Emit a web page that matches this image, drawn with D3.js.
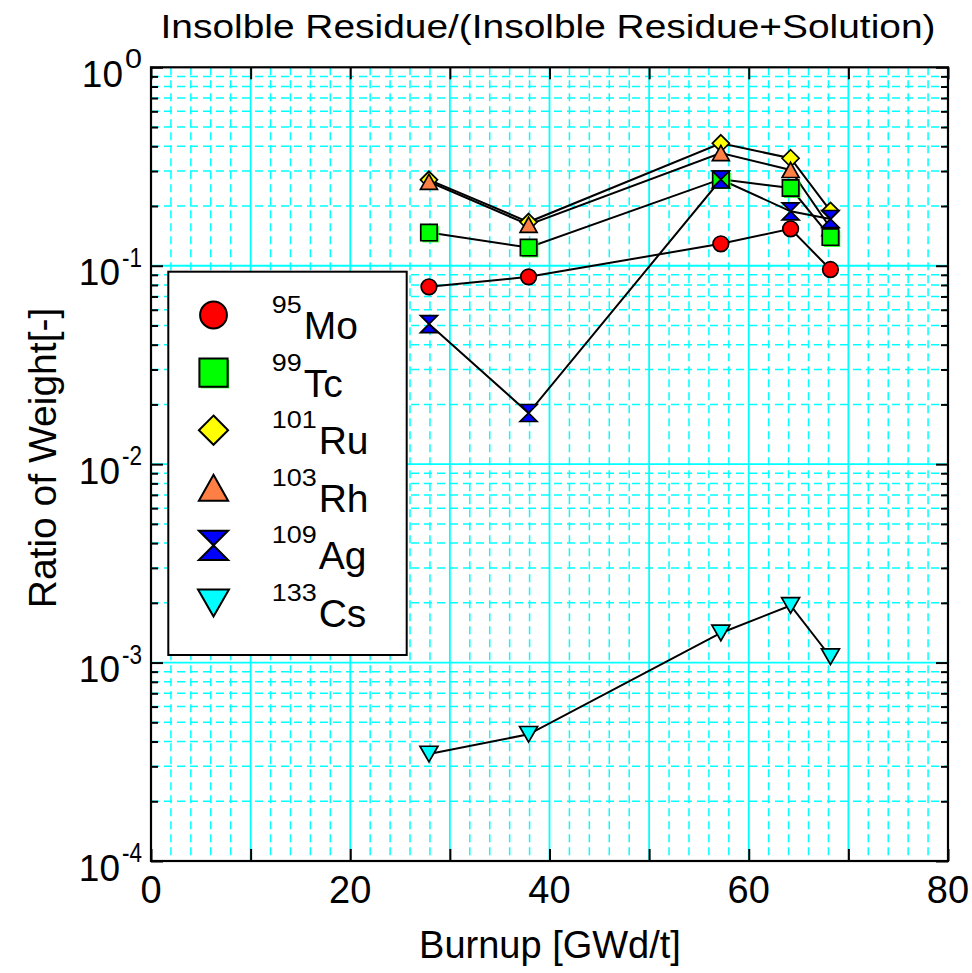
<!DOCTYPE html>
<html>
<head>
<meta charset="utf-8">
<script src="https://cdn.jsdelivr.net/npm/d3@7"></script>
<style>
  html, body { margin: 0; padding: 0; background: #fff; }
  svg { display: block; font-family: "Liberation Sans", Arial, Helvetica, sans-serif; }
</style>
</head>
<body>
<svg id="chart" width="972" height="973"></svg>
<script>
// Burnup of each sample [GWd/t]
const burnup = [27.9, 37.9, 57.2, 64.2, 68.2];

// Insoluble residue / (insoluble residue + solution), by nuclide
const mo95  = [0.0783, 0.0879, 0.129, 0.1535, 0.0957];
const tc99  = [0.147, 0.1235, 0.273, 0.2464, 0.1395];
const ru101 = [0.271, 0.166, 0.414, 0.348, 0.189];
const rh103 = [0.265, 0.161, 0.370, 0.304, 0.155];
const ag109 = [0.0508, 0.0181, 0.272, 0.188, 0.172];
const cs133 = [3.46e-4, 4.35e-4, 1.41e-3, 1.94e-3, 1.07e-3];

const xTicks = [0, 20, 40, 60, 80];
const yDecades = [1e-4, 1e-3, 1e-2, 1e-1, 1];

const titleText = "Insolble Residue/(Insolble Residue+Solution)";
const xLabel = "Burnup [GWd/t]";
const yLabel = "Ratio of Weight[-]";

// legend order
const series = [
  { mass: "95",  name: "Mo", values: mo95,  color: "#ff0000", shape: "circle" },
  { mass: "99",  name: "Tc", values: tc99,  color: "#00ff00", shape: "square" },
  { mass: "101", name: "Ru", values: ru101, color: "#ffff00", shape: "diamond" },
  { mass: "103", name: "Rh", values: rh103, color: "#ff7f45", shape: "triangle" },
  { mass: "109", name: "Ag", values: ag109, color: "#0000ff", shape: "bowtie" },
  { mass: "133", name: "Cs", values: cs133, color: "#00ffff", shape: "triangleDown" }
];
// stacking order of the marks in the plot
const drawOrder = ["Mo", "Ru", "Rh", "Tc", "Ag", "Cs"];

const svg = d3.select("#chart");
const L = 151, R = 948, T = 67.3, B = 861;
const x = d3.scaleLinear().domain([0, 80]).range([L, R]);
const y = d3.scaleLog().domain([1e-4, 1]).range([B, T]);

const grid = "#00ffff";
const dash = "8,5";

// ---- grid ----
const gGrid = svg.append("g");
// minor vertical (every 2)
d3.range(2, 80, 2).filter(v => v % 10 !== 0).forEach(v => {
  gGrid.append("line").attr("x1", x(v)).attr("x2", x(v)).attr("y1", T).attr("y2", B)
    .attr("stroke", grid).attr("stroke-width", 1.5).attr("stroke-dasharray", dash);
});
// minor horizontal (2..9 x decade)
y.ticks().filter(v => Math.abs(Math.log10(v) - Math.round(Math.log10(v))) > 1e-6).forEach(v => {
  gGrid.append("line").attr("x1", L).attr("x2", R).attr("y1", y(v)).attr("y2", y(v))
    .attr("stroke", grid).attr("stroke-width", 1.5).attr("stroke-dasharray", dash);
});
// major vertical
d3.range(10, 80, 10).forEach(v => {
  gGrid.append("line").attr("x1", x(v)).attr("x2", x(v)).attr("y1", T).attr("y2", B)
    .attr("stroke", grid).attr("stroke-width", 1.8);
});
// major horizontal
yDecades.slice(1, -1).forEach(v => {
  gGrid.append("line").attr("x1", L).attr("x2", R).attr("y1", y(v)).attr("y2", y(v))
    .attr("stroke", grid).attr("stroke-width", 1.8);
});

// ---- axes (inward ticks on all four sides) ----
const axisStyle = g => {
  g.select(".domain").remove();
  g.selectAll(".tick line").attr("stroke", "#000").attr("stroke-width", 2);
  g.selectAll(".tick text").remove();
};
const majorX = d3.range(0, 81, 10);
svg.append("g").attr("transform", `translate(0,${B})`)
  .call(d3.axisBottom(x).tickValues(majorX).tickSize(-12)).call(axisStyle);
svg.append("g").attr("transform", `translate(0,${T})`)
  .call(d3.axisTop(x).tickValues(majorX).tickSize(-12)).call(axisStyle);

const minorY = y.ticks().filter(v => !yDecades.some(d => Math.abs(d - v) / d < 1e-6));
[["left", L], ["right", R]].forEach(([side, pos]) => {
  const mk = side === "left" ? d3.axisLeft : d3.axisRight;
  svg.append("g").attr("transform", `translate(${pos},0)`)
    .call(mk(y).tickValues(yDecades).tickSize(-12)).call(axisStyle);
  svg.append("g").attr("transform", `translate(${pos},0)`)
    .call(mk(y).tickValues(minorY).tickSize(-7)).call(axisStyle);
});

svg.append("rect").attr("x", L).attr("y", T).attr("width", R - L).attr("height", B - T)
  .attr("fill", "none").attr("stroke", "#000").attr("stroke-width", 2.2);

// x tick labels
xTicks.forEach(v => {
  svg.append("text").attr("x", x(v)).attr("y", 903).attr("text-anchor", "middle")
    .attr("font-size", 38).text(v);
});

// y tick labels: 10^n
yDecades.forEach(v => {
  const e = Math.round(Math.log10(v));
  const sup = String(e);
  const supW = sup.length === 1 ? 17 : 20;
  const right = 142;
  const ty = y(v);
  svg.append("text").attr("x", right - supW - 2).attr("y", ty + 19.5)
    .attr("text-anchor", "end").attr("font-size", 37).text("10");
  svg.append("text").attr("x", right - supW).attr("y", ty + 1)
    .attr("font-size", 28).attr("textLength", supW).attr("lengthAdjust", "spacingAndGlyphs")
    .text(sup);
});

// title & axis labels
svg.append("text").attr("x", 548).attr("y", 38).attr("text-anchor", "middle")
  .attr("font-size", 33).attr("textLength", 775).attr("lengthAdjust", "spacingAndGlyphs")
  .text(titleText);
svg.append("text").attr("x", 550).attr("y", 958).attr("text-anchor", "middle")
  .attr("font-size", 38).text(xLabel);
svg.append("text").attr("transform", `translate(56,458) rotate(-90)`)
  .attr("text-anchor", "middle").attr("font-size", 39).text(yLabel);

// ---- marker shapes (bbox centred on the point), s = scale ----
function shapePath(shape, s) {
  const h = 8.5 * s;
  switch (shape) {
    case "circle": {
      const r = 7.8 * s;
      return `M${r},0A${r},${r},0,1,1,${-r},0A${r},${r},0,1,1,${r},0Z`;
    }
    case "square": { const a = 8.2 * s; return `M${-a},${-a}H${a}V${a}H${-a}Z`; }
    case "diamond": return `M0,${-h}L${h},0L0,${h}L${-h},0Z`;
    case "triangle": { const v = 7.6 * s; return `M0,${-v}L${h},${v}L${-h},${v}Z`; }
    case "bowtie": return `M${-h},${-h}H${h}L${-h},${h}H${h}Z`;
    case "triangleDown": { const w = 9 * s, v = 7.8 * s; return `M${-w},${-v}H${w}L0,${v}Z`; }
  }
}
function drawMarker(g, d, cx, cy, s, sw) {
  if (d.shape === "square") {
    // green fill slightly offset from its outline
    g.append("path").attr("d", shapePath("square", s))
      .attr("transform", `translate(${cx + 1.6},${cy + 1.6})`).attr("fill", d.color);
  }
  g.append("path").attr("d", shapePath(d.shape, s))
    .attr("transform", `translate(${cx},${cy})`)
    .attr("fill", d.color).attr("stroke", "#000").attr("stroke-width", sw)
    .attr("stroke-linejoin", "miter");
}

// ---- lines then markers ----
const ordered = drawOrder.map(n => series.find(s => s.name === n));
const line = d3.line().x((d, i) => x(burnup[i])).y(d => y(d));
const gLines = svg.append("g");
ordered.forEach(s => {
  gLines.append("path").attr("d", line(s.values)).attr("fill", "none")
    .attr("stroke", "#000").attr("stroke-width", 2);
});
const gMarks = svg.append("g");
ordered.forEach(s => {
  s.values.forEach((v, i) => drawMarker(gMarks, s, x(burnup[i]), y(v), 1, 1.7));
});

// ---- legend ----
const lg = svg.append("g");
lg.append("rect").attr("x", 168.3).attr("y", 271.7).attr("width", 238.4).attr("height", 383.3)
  .attr("fill", "#fff").attr("stroke", "#000").attr("stroke-width", 2);
series.forEach((s, i) => {
  const base = 339 + 57.6 * i;
  const cy = base - 24;
  drawMarker(lg, s, 213.5, cy, 1.72, 2);
  const supW = 15 * s.mass.length;
  lg.append("text").attr("x", 271.7).attr("y", base - 26).attr("font-size", 23)
    .attr("textLength", supW).attr("lengthAdjust", "spacingAndGlyphs").text(s.mass);
  lg.append("text").attr("x", 271.7 + supW + 2).attr("y", base).attr("font-size", 39)
    .text(s.name);
});
</script>
</body>
</html>
